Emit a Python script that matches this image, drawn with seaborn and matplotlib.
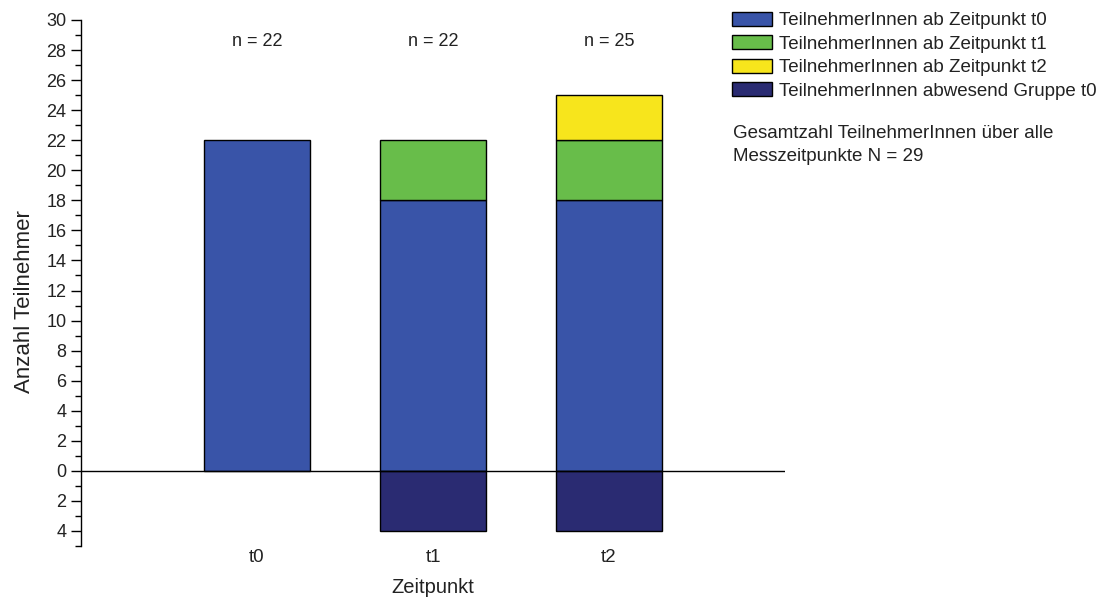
import numpy as np
import pandas as pd
import seaborn as sns
import matplotlib.pyplot as plt
from matplotlib.patches import Patch
from matplotlib.ticker import MultipleLocator, FuncFormatter

# --- data ---
zeitpunkte = ["t0", "t1", "t2"]
ab_t0 = [22, 18, 18]
ab_t1 = [0, 4, 4]
ab_t2 = [0, 0, 3]
abwesend_t0 = [0, -4, -4]
n_labels = ["n = 22", "n = 22", "n = 25"]

series_names = ["TeilnehmerInnen ab Zeitpunkt t0", "TeilnehmerInnen ab Zeitpunkt t1",
                "TeilnehmerInnen ab Zeitpunkt t2", "TeilnehmerInnen abwesend Gruppe t0"]
colors = ["#3954a8", "#68bd4a", "#f7e51c", "#2a2b72"]

sns.set_style("ticks")
plt.rcParams["font.family"] = ["Liberation Sans", "DejaVu Sans"]
plt.rcParams["text.color"] = "#222222"

fig = plt.figure(figsize=(11.02, 6.02), dpi=100)
ax = fig.add_axes([81 / 1102, 1 - 546 / 602, (785 - 81) / 1102, (546 - 20) / 602])

df = pd.DataFrame({"Zeitpunkt": zeitpunkte, "t0": ab_t0, "t1": ab_t1, "t2": ab_t2, "abw": abwesend_t0})
bottom1 = np.array(ab_t0)
bottom2 = bottom1 + np.array(ab_t1)

kw = dict(order=zeitpunkte, width=0.6, edgecolor="black", linewidth=1, ax=ax, errorbar=None, saturation=1)
sns.barplot(data=df, x="Zeitpunkt", y="t0", color=colors[0], **kw)
sns.barplot(data=df, x="Zeitpunkt", y="t1", color=colors[1], bottom=bottom1, **kw)
sns.barplot(data=df, x="Zeitpunkt", y="t2", color=colors[2], bottom=bottom2, **kw)
sns.barplot(data=df, x="Zeitpunkt", y="abw", color=colors[3], **kw)

# hide empty segments
for p in ax.patches:
    if p.get_height() == 0:
        p.set_visible(False)

ax.axhline(0, color="black", lw=1, zorder=5)

for i, lab in enumerate(n_labels):
    ax.text(i, 28.6, lab, ha="center", va="center", fontsize=13)

ax.set_xlim(-1, 3)
ax.set_ylim(-5, 30)
ax.set_yticks(np.arange(-4, 31, 2))
ax.yaxis.set_minor_locator(MultipleLocator(1))
ax.yaxis.set_major_formatter(FuncFormatter(lambda v, p: f"{abs(int(round(v)))}"))
ax.tick_params(axis="y", which="major", length=7, width=1, labelsize=13, direction="out",
               color="black", labelcolor="#222222")
ax.tick_params(axis="y", which="minor", length=4, width=1, direction="out", color="black")
ax.tick_params(axis="x", length=0, labelsize=13.5, pad=2, labelcolor="#222222")

for s in ["top", "right", "bottom"]:
    ax.spines[s].set_visible(False)
ax.spines["left"].set_color("black")
ax.spines["left"].set_linewidth(1)

ax.set_ylabel("Anzahl Teilnehmer", fontsize=16, labelpad=8, color="#222222")
ax.yaxis.label.set_y(0.464)
ax.set_xlabel("Zeitpunkt", fontsize=14.5, labelpad=9, color="#222222")

handles = [Patch(facecolor=c, edgecolor="black", linewidth=1) for c in colors]
fig.legend(handles, series_names, loc="upper left", bbox_to_anchor=(724.5 / 1102, 1 - 4 / 602),
           frameon=False, fontsize=13.5, handlelength=2.13, handleheight=0.8,
           handletextpad=0.37, labelspacing=0.31, borderaxespad=0)

fig.text(733 / 1102, 1 - 125 / 602, "Gesamtzahl TeilnehmerInnen über alle\nMesszeitpunkte N = 29",
         fontsize=13.5, va="top", ha="left", linespacing=1.45)

fig.savefig("out.png", dpi=100)
